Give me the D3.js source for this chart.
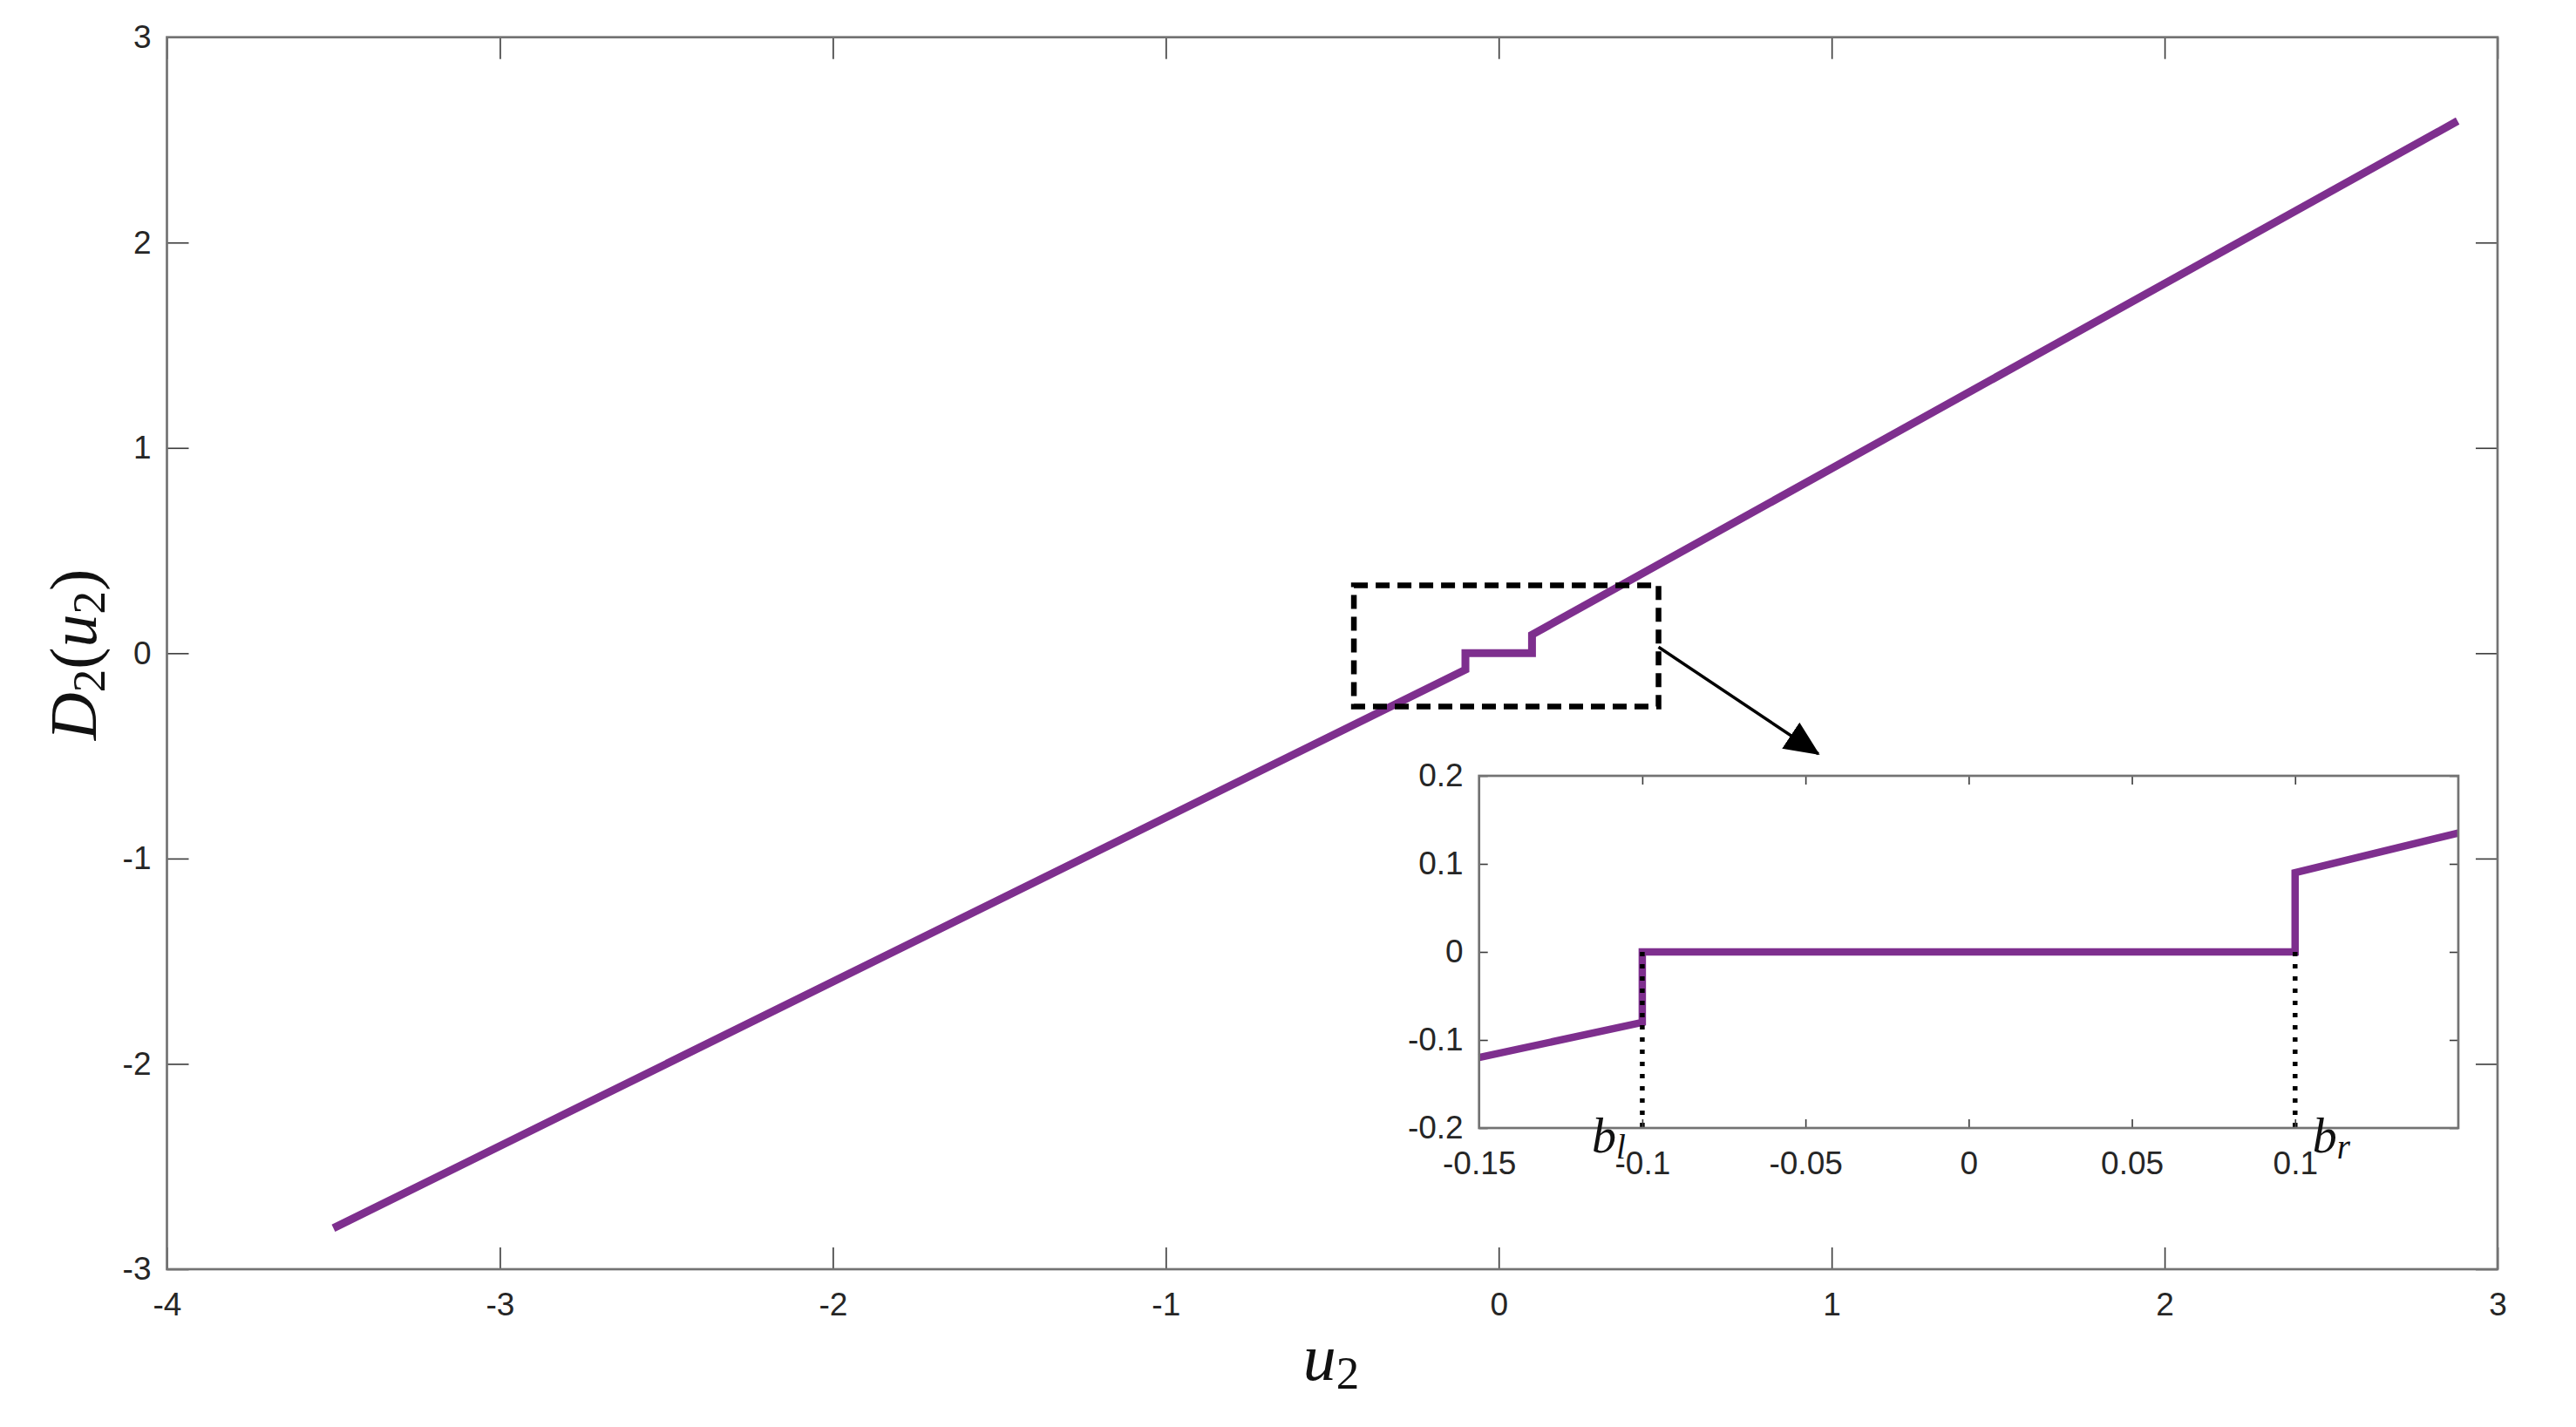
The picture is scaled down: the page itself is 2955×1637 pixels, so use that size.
<!DOCTYPE html>
<html>
<head>
<meta charset="utf-8">
<script src="https://cdn.jsdelivr.net/npm/d3@7"></script>
<style>
  html, body { margin: 0; padding: 0; background: #fff; }
  .tick text { font-family: "Liberation Sans", Arial, sans-serif; fill: #262626; }
  .math { font-family: "Liberation Serif", "Times New Roman", serif; fill: #111; }
</style>
</head>
<body>
<div id="chart"></div>
<script>
// main curve D2(u2): samples
let mainU = [-3.5, -0.1, -0.1, 0, 0.1, 0.1, 2.88];
let mainD = [-2.8, -0.08, 0, 0, 0, 0.09, 2.592];

// inset (zoom on the dead zone)
let insetU = [-0.15, -0.1, -0.1, 0, 0.1, 0.1, 0.15];
let insetD = [-0.12, -0.08, 0, 0, 0, 0.09, 0.135];

// dead-zone borders b_l, b_r
let borderU = [-0.1, 0.1];
let borderNames = ["l", "r"];

let mainXTicks = [-4, -3, -2, -1, 0, 1, 2, 3];
let mainYTicks = [-3, -2, -1, 0, 1, 2, 3];
let insetXTicks = [-0.15, -0.1, -0.05, 0, 0.05, 0.1];
let insetYTicks = [-0.2, -0.1, 0, 0.1, 0.2];

// zoom box and arrow, in main-axes units
let zoomBoxU = [-0.435, 0.48];
let zoomBoxD = [-0.26, 0.33];
let arrowU = [0.48, 0.96];
let arrowD = [0.03, -0.49];

let width = 2955, height = 1637;
let purple = "#7e2f8e";

let svg = d3.select("#chart")
  .append("svg")
    .attr("width", width)
    .attr("height", height)
    .style("display", "block");

svg.append("rect")
    .attr("width", width)
    .attr("height", height)
    .attr("fill", "#fff");

// ---- main axes ----
let x = d3.scaleLinear().domain([-4, 3]).range([191.5, 2865]);
let y = d3.scaleLinear().domain([-3, 3]).range([1456, 42.7]);

drawFrame(svg, x, y, mainXTicks, mainYTicks, 25);

let line = d3.line()
    .x(function(d) { return x(d[0]); })
    .y(function(d) { return y(d[1]); });

svg.append("path")
    .datum(d3.zip(mainU, mainD))
    .attr("d", line)
    .attr("fill", "none")
    .attr("stroke", purple)
    .attr("stroke-width", 9)
    .attr("stroke-linejoin", "miter");

// dashed zoom box
svg.append("rect")
    .attr("x", x(zoomBoxU[0]))
    .attr("y", y(zoomBoxD[1]))
    .attr("width", x(zoomBoxU[1]) - x(zoomBoxU[0]))
    .attr("height", y(zoomBoxD[0]) - y(zoomBoxD[1]))
    .attr("fill", "none")
    .attr("stroke", "#000")
    .attr("stroke-width", 6.5)
    .attr("stroke-dasharray", "16 9");

// arrow
svg.append("defs").append("marker")
    .attr("id", "head")
    .attr("markerUnits", "userSpaceOnUse")
    .attr("viewBox", "0 0 40 36")
    .attr("refX", 38)
    .attr("refY", 18)
    .attr("markerWidth", 40)
    .attr("markerHeight", 36)
    .attr("orient", "auto")
  .append("path")
    .attr("d", "M0,0 L40,18 L0,36 Z")
    .attr("fill", "#000");

svg.append("line")
    .attr("x1", x(arrowU[0]))
    .attr("y1", y(arrowD[0]))
    .attr("x2", x(arrowU[1]))
    .attr("y2", y(arrowD[1]))
    .attr("stroke", "#000")
    .attr("stroke-width", 3.5)
    .attr("marker-end", "url(#head)");

// axis titles
let xTitle = svg.append("text")
    .attr("class", "math")
    .attr("x", 1527)
    .attr("y", 1583)
    .attr("text-anchor", "middle")
    .attr("font-size", 76);
mathRun(xTitle, [["u", true], ["2", false, "sub"]]);

let yTitle = svg.append("text")
    .attr("class", "math")
    .attr("transform", translate(110, 751) + " rotate(-90)")
    .attr("text-anchor", "middle")
    .attr("font-size", 76);
mathRun(yTitle, [["D", true], ["2", false, "sub"], ["(", false], ["u", true], ["2", false, "sub"], [")", false]]);

// ---- inset axes ----
let xi = d3.scaleLinear().domain([-0.15, 0.15]).range([1696.7, 2820]);
let yi = d3.scaleLinear().domain([-0.2, 0.2]).range([1294, 890]);

svg.append("rect")
    .attr("x", xi.range()[0])
    .attr("y", yi.range()[1])
    .attr("width", xi.range()[1] - xi.range()[0])
    .attr("height", yi.range()[0] - yi.range()[1])
    .attr("fill", "#fff");

let insetLine = d3.line()
    .x(function(d) { return xi(d[0]); })
    .y(function(d) { return yi(d[1]); });

svg.append("path")
    .datum(d3.zip(insetU, insetD))
    .attr("d", insetLine)
    .attr("fill", "none")
    .attr("stroke", purple)
    .attr("stroke-width", 8.5);

svg.selectAll(".border")
  .data(borderU)
  .enter()
  .append("line")
    .attr("class", "border")
    .attr("x1", function(d) { return xi(d); })
    .attr("x2", function(d) { return xi(d); })
    .attr("y1", yi(0))
    .attr("y2", yi(-0.2))
    .attr("stroke", "#000")
    .attr("stroke-width", 5.5)
    .attr("stroke-dasharray", "5 9");

drawFrame(svg, xi, yi, insetXTicks, insetYTicks, 10);

// b_l and b_r
borderU.forEach(function(u, i) {
  let t = svg.append("text")
      .attr("class", "math")
      .attr("x", xi(u) + (i == 0 ? -58 : 20))
      .attr("y", yi(-0.2) + 28)
      .attr("font-size", 56);
  mathRun(t, [["b", true], [borderNames[i], true, "sub"]]);
});


function drawFrame(g, sx, sy, xt, yt, tick) {
  let fmt = function(d) { return String(d); };
  let x0 = sx.range()[0], x1 = sx.range()[1];
  let y0 = sy.range()[0], y1 = sy.range()[1];

  let axes = [
    [d3.axisBottom(sx).tickValues(xt).tickFormat(fmt).tickPadding(27), translate(0, y0)],
    [d3.axisTop(sx).tickValues(xt).tickFormat(""), translate(0, y1)],
    [d3.axisLeft(sy).tickValues(yt).tickFormat(fmt).tickPadding(18), translate(x0, 0)],
    [d3.axisRight(sy).tickValues(yt).tickFormat(""), translate(x1, 0)]
  ];

  axes.forEach(function(a) {
    let ax = g.append("g")
        .attr("transform", a[1])
        .call(a[0].tickSizeInner(-tick).tickSizeOuter(0));
    ax.select(".domain").remove();
    ax.selectAll(".tick line")
        .attr("stroke", "#3a3a3a")
        .attr("stroke-width", 1.6);
    ax.selectAll(".tick text")
        .attr("font-size", 37)
        .attr("font-family", null);
  });

  g.append("rect")
      .attr("x", x0)
      .attr("y", y1)
      .attr("width", x1 - x0)
      .attr("height", y0 - y1)
      .attr("fill", "none")
      .attr("stroke", "#737373")
      .attr("stroke-width", 2.7);
}

// pieces: [text, italic, "sub"?]
function mathRun(el, pieces) {
  let size = +el.attr("font-size");
  let sub = Math.round(size * 0.7);
  let shift = Math.round(size * 0.13);
  let down = false;
  pieces.forEach(function(p) {
    let s = el.append("tspan")
        .text(p[0])
        .attr("font-style", p[1] ? "italic" : "normal")
        .attr("font-size", p[2] == "sub" ? sub : size);
    if (p[2] == "sub" && !down) { s.attr("dy", shift); down = true; }
    else if (p[2] != "sub" && down) { s.attr("dy", -shift); down = false; }
  });
}

function translate(x, y=0) {
  return "translate({x}, {y})"
          .replace("{x}", x)
          .replace("{y}", y);
}
</script>
</body>
</html>
